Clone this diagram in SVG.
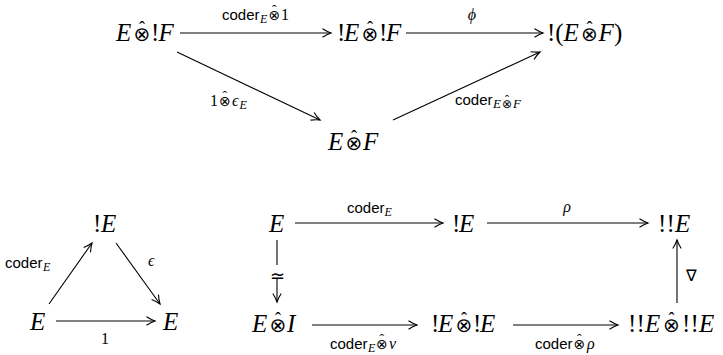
<svg xmlns="http://www.w3.org/2000/svg" width="723" height="355" viewBox="0 0 723 355">
<style>
.m{font-family:"Liberation Serif",serif;font-size:25px;font-style:italic;fill:#000}
.o{font-family:"DejaVu Sans",sans-serif;font-size:20px;font-style:normal}
.hh{font-family:"Liberation Serif",serif;font-size:18px;font-style:normal}
.t{font-family:"Liberation Sans",sans-serif;font-size:15px;fill:#000}
.s{font-family:"Liberation Serif",serif;font-size:12px;font-style:italic}
.g{font-family:"Liberation Serif",serif;font-size:16px;font-style:italic;fill:#000}
.so{font-family:"DejaVu Sans",sans-serif;font-size:14px;font-style:normal}
.sh{font-family:"Liberation Serif",serif;font-size:14px;font-style:normal}
.u{font-style:normal}
.c line{stroke:#000;stroke-width:1.1;fill:none}
.a{marker-end:url(#ah)}
</style>
<defs>
<marker id="ah" markerUnits="userSpaceOnUse" markerWidth="12" markerHeight="12" refX="9" refY="5" orient="auto" overflow="visible">
<path d="M0.5,0.8 Q5,3.6 9,5 Q5,6.4 0.5,9.2" fill="none" stroke="#000" stroke-width="1.1"/>
</marker>
</defs>

<g id="n-EF1">
<text class="m" y="41"><tspan x="116">E</tspan><tspan class="o" x="133.5">⊗</tspan><tspan class="hh" x="139" y="34">ˆ</tspan><tspan class="u" x="151" y="41">!</tspan><tspan x="158.5">F</tspan></text>
</g>
<g id="n-EF2">
<text class="m" y="41"><tspan class="u" x="337">!</tspan><tspan x="344">E</tspan><tspan class="o" x="361.5">⊗</tspan><tspan class="hh" x="367" y="34">ˆ</tspan><tspan class="u" x="379" y="41">!</tspan><tspan x="386">F</tspan></text>
</g>
<g id="n-EF3">
<text class="m" y="41"><tspan class="u" x="547">!(</tspan><tspan x="563.5">E</tspan><tspan class="o" x="581">⊗</tspan><tspan class="hh" x="586.4" y="34">ˆ</tspan><tspan x="598.5" y="41">F</tspan><tspan class="u" x="614">)</tspan></text>
</g>
<g id="n-EF4">
<text class="m" y="150"><tspan x="328">E</tspan><tspan class="o" x="345.5">⊗</tspan><tspan class="hh" x="351" y="143">ˆ</tspan><tspan x="363" y="150">F</tspan></text>
</g>

<g id="n-tri-top"><text class="m" y="232"><tspan class="u" x="93">!</tspan><tspan x="101">E</tspan></text></g>
<g id="n-tri-bl"><text class="m" x="30" y="330">E</text></g>
<g id="n-tri-br"><text class="m" x="163" y="330">E</text></g>

<g id="n-sq-E"><text class="m" x="269" y="232">E</text></g>
<g id="n-sq-bE"><text class="m" y="232"><tspan class="u" x="452">!</tspan><tspan x="459">E</tspan></text></g>
<g id="n-sq-bbE"><text class="m" y="232"><tspan class="u" x="658">!</tspan><tspan class="u" x="666.5">!</tspan><tspan x="675">E</tspan></text></g>
<g id="n-sq-EI">
<text class="m" y="332"><tspan x="252">E</tspan><tspan class="o" x="269.5">⊗</tspan><tspan class="hh" x="275" y="325">ˆ</tspan><tspan x="287" y="332">I</tspan></text>
</g>
<g id="n-sq-EE">
<text class="m" y="332"><tspan class="u" x="431">!</tspan><tspan x="438">E</tspan><tspan class="o" x="455.5">⊗</tspan><tspan class="hh" x="461" y="325">ˆ</tspan><tspan class="u" x="473" y="332">!</tspan><tspan x="480">E</tspan></text>
</g>
<g id="n-sq-bbEE">
<text class="m" y="332"><tspan class="u" x="628">!</tspan><tspan class="u" x="636.5">!</tspan><tspan x="645">E</tspan><tspan class="o" x="663">⊗</tspan><tspan class="hh" x="668.5" y="325">ˆ</tspan><tspan class="u" x="682" y="332">!</tspan><tspan class="u" x="690.5">!</tspan><tspan x="699">E</tspan></text>
</g>

<g id="connectors" class="c">
<line class="a" x1="180" y1="33" x2="331" y2="33"/>
<line class="a" x1="406" y1="33" x2="543" y2="33"/>
<line class="a" x1="177" y1="52" x2="320" y2="120"/>
<line class="a" x1="393" y1="120" x2="540" y2="52"/>
<line class="a" x1="49" y1="304" x2="92" y2="243"/>
<line class="a" x1="116" y1="243" x2="160" y2="304"/>
<line class="a" x1="56" y1="321" x2="155" y2="321"/>
<line class="a" x1="295" y1="223" x2="443" y2="223"/>
<line class="a" x1="487" y1="223" x2="648" y2="223"/>
<line x1="277" y1="240" x2="277" y2="265"/>
<line class="a" x1="277" y1="279" x2="277" y2="302"/>
<line class="a" x1="312" y1="325" x2="417" y2="325"/>
<line class="a" x1="513" y1="325" x2="618" y2="325"/>
<line class="a" x1="677" y1="303" x2="677" y2="240"/>
</g>

<g id="labels">
<text class="t" y="20"><tspan x="222">coder</tspan><tspan class="s" x="260" y="23">E</tspan><tspan class="so" x="268.5" y="20">⊗</tspan><tspan class="sh" x="272" y="15">ˆ</tspan><tspan class="g u" x="281" y="20">1</tspan></text>
<text class="g" x="472" y="20" text-anchor="middle">ϕ</text>
<text class="g" y="106"><tspan class="u" x="210">1</tspan><tspan class="so" x="219">⊗</tspan><tspan class="sh" x="222.6" y="101">ˆ</tspan><tspan x="232" y="106">ϵ</tspan><tspan class="s" x="239.5" y="109">E</tspan></text>
<text class="t" y="105"><tspan x="455">coder</tspan><tspan class="s" x="493" y="108" style="font-size:13px">E</tspan><tspan class="so" x="502" y="108" style="font-size:12px">⊗</tspan><tspan class="sh" x="505" y="104" style="font-size:12px">ˆ</tspan><tspan class="s" x="513" y="108" style="font-size:13px">F</tspan></text>
<text class="t" y="268"><tspan x="5">coder</tspan><tspan class="s" x="43" y="271">E</tspan></text>
<text class="g" x="148" y="266">ϵ</text>
<text class="g u" x="105" y="344" text-anchor="middle">1</text>
<text class="t" y="213"><tspan x="347">coder</tspan><tspan class="s" x="384.5" y="216">E</tspan></text>
<text class="g" x="567" y="212" text-anchor="middle">ρ</text>
<text class="g u" x="277" y="282" text-anchor="middle" style="font-size:18px">≃</text>
<text class="t" y="349"><tspan x="330">coder</tspan><tspan class="s" x="368" y="352">E</tspan><tspan class="so" x="376" y="349">⊗</tspan><tspan class="sh" x="379.6" y="344">ˆ</tspan><tspan class="g" x="389" y="349">ν</tspan></text>
<text class="t" y="349"><tspan x="535">coder</tspan><tspan class="so" x="573.5">⊗</tspan><tspan class="sh" x="577" y="344">ˆ</tspan><tspan class="g" x="587" y="349">ρ</tspan></text>
<text class="g u" x="686" y="281">∇</text>
</g>
</svg>
